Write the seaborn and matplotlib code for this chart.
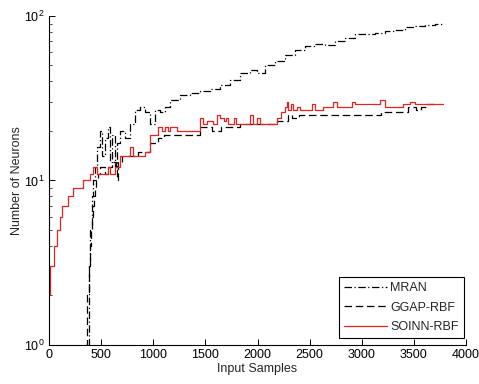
import numpy as np
import pandas as pd
import matplotlib
matplotlib.use("Agg")
import matplotlib.pyplot as plt
import seaborn as sns

# ---- data ----
soinn_x = [0, 10, 48, 77, 105, 125, 182, 230, 326, 393, 422, 460, 565, 585, 633, 681,
           777, 806, 921, 969, 1045, 1080, 1110, 1140, 1160, 1228, 1448, 1480, 1520,
           1570, 1610, 1640, 1680, 1700, 1720, 1770, 1790, 1928, 1956, 1995, 2020,
           2187, 2230, 2260, 2282, 2292, 2320, 2340, 2380, 2407, 2522, 2551, 2628,
           2720, 2762, 2906, 2935, 3175, 3222, 3395, 3460, 3510, 3778]
soinn_y = [2, 3, 4, 5, 6, 7, 8, 9, 10, 11, 12, 11, 12, 11, 12, 14,
           16, 14, 15, 19, 21, 20, 21, 20, 21, 20, 24, 22, 23,
           22, 25, 24, 23, 24, 22, 24, 22, 25, 22, 24, 22,
           24, 26, 28, 30, 27, 29, 27, 28, 27, 29, 27, 28,
           30, 28, 30, 29, 31, 28, 29, 30, 29, 29]

ggap_x = [350, 365, 380, 395, 405, 412, 420, 430, 440, 450, 470, 490, 540, 570, 600,
          640, 650, 660, 700, 850, 969, 1050, 1100, 1448, 1560, 1650, 1830, 2187,
          2290, 2330, 2400, 3180, 3440, 3520, 3570, 3630, 3700]
ggap_y = [1, 2, 3, 4, 5, 6, 7, 8, 9, 10, 11, 12, 11, 12, 13,
          12, 10, 13, 14, 15, 17, 18, 19, 21, 20, 21, 22, 23,
          25, 24, 25, 26, 28, 27, 28, 29, 29]

mran_x = [374, 380, 385, 395, 410, 425, 440, 460, 490, 505, 537, 566, 585, 604, 633,
          650, 681, 729, 777, 825, 873, 921, 969, 1016, 1064, 1112, 1160, 1256,
          1352, 1448, 1544, 1640, 1736, 1832, 1928, 1995, 2072, 2168, 2263, 2359,
          2455, 2551, 2647, 2743, 2839, 2935, 3030, 3126, 3222, 3318, 3414, 3510,
          3606, 3702, 3778]
mran_y = [1, 2, 3, 5, 8, 10, 12, 16, 20, 14, 18, 21, 13, 19, 12,
          17, 20, 18, 22, 27, 28, 26, 22, 27, 26, 28, 31, 33,
          34, 35, 36, 38, 41, 45, 47, 45, 50, 53, 58, 62,
          66, 68, 67, 70, 73, 78, 78, 79, 81, 82, 86, 87,
          88, 89, 90]

labels = ["MRAN", "GGAP-RBF", "SOINN-RBF"]

df = pd.concat([
    pd.DataFrame({"x": mran_x, "y": mran_y, "method": labels[0]}),
    pd.DataFrame({"x": ggap_x, "y": ggap_y, "method": labels[1]}),
    pd.DataFrame({"x": soinn_x, "y": soinn_y, "method": labels[2]}),
])

sns.set_style("white")
plt.rcParams["font.family"] = ["Liberation Sans", "DejaVu Sans"]

fig = plt.figure(figsize=(4.79, 3.84), dpi=100)
ax = fig.add_axes([0.1023, 0.1016, 0.8706, 0.8568])

styles = {labels[0]: ("black", (0, (6, 2, 1, 2))),
          labels[1]: ("black", (0, (6, 3))),
          labels[2]: ("#e02525", "-")}
for lab in labels:
    sub = df[df["method"] == lab]
    c, ls = styles[lab]
    sns.lineplot(data=sub, x="x", y="y", ax=ax, color=c, linestyle=ls,
                 linewidth=0.9, drawstyle="steps-post", label=lab,
                 estimator=None, sort=False)

ax.set_yscale("log")
ax.set_xlim(0, 4000)
ax.set_ylim(1, 100)
ax.set_xticks(np.arange(0, 4001, 500))
ax.set_xlabel("Input Samples", fontsize=9, labelpad=1)
ax.set_ylabel("Number of Neurons", fontsize=9, labelpad=1)
ax.tick_params(axis="both", which="major", direction="in", length=4, width=0.7,
               labelsize=9, colors="black", bottom=True, left=True, pad=3)
ax.tick_params(axis="y", which="minor", direction="in", length=2, width=0.6,
               left=True)
for s in ["top", "right"]:
    ax.spines[s].set_visible(False)
for s in ["left", "bottom"]:
    ax.spines[s].set_color("black")
    ax.spines[s].set_linewidth(0.8)

leg = ax.legend(loc="lower right", bbox_to_anchor=(0.995, 0.021), fontsize=9,
                frameon=True, fancybox=False, framealpha=1, edgecolor="black",
                handlelength=3.4, handletextpad=0.3, borderpad=0.4,
                labelspacing=0.6, borderaxespad=0)
leg.get_frame().set_linewidth(0.8)

fig.savefig("out.png", dpi=100)
